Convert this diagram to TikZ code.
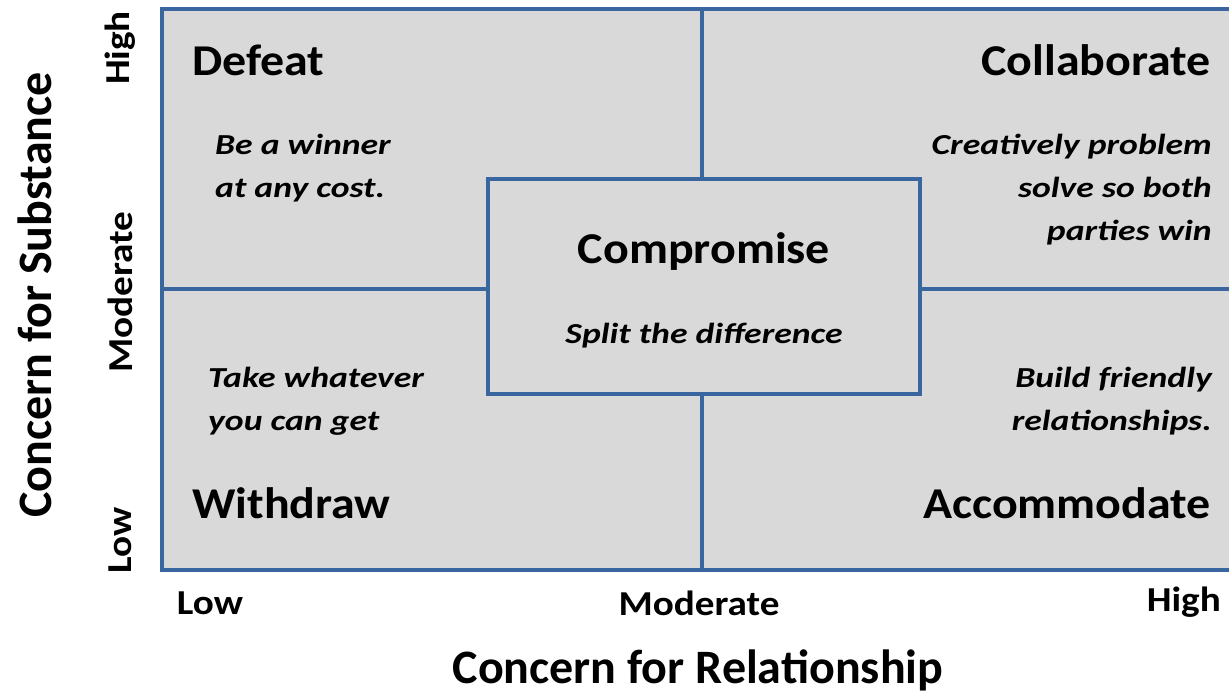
\documentclass[tikz,border=0pt]{standalone}
\usepackage{fontspec}
\setmainfont{Carlito}
\newfontfamily\widefont[FakeStretch=1.09]{Carlito}
\newfontfamily\notefont[FakeStretch=1.23]{Carlito}
\newfontfamily\tickfont[FakeStretch=1.12]{Carlito}
\usepackage{xcolor}
\definecolor{frame}{HTML}{3A66A0}
\definecolor{pane}{HTML}{D9D9D9}
\usepackage{tikz}
\usetikzlibrary{positioning}
\tikzset{
  grid/.style={draw=frame,line width=4pt},
  midbox/.style={grid,fill=pane,minimum width=432pt,minimum height=215pt,inner sep=0pt},
  ttl/.style={font=\widefont\bfseries\fontsize{44}{48}\selectfont,inner sep=0pt},
  note/.style={font=\notefont\bfseries\itshape\fontsize{29}{43}\selectfont,inner sep=0pt},
  tick/.style={font=\tickfont\bfseries\fontsize{35}{40}\selectfont,inner sep=0pt},
  axis/.style={font=\bfseries\fontsize{48}{52}\selectfont,inner sep=0pt},
}

\begin{document}
\begin{tikzpicture}[x=1pt,y=1pt]
  \clip (0,0) rectangle (1229,-695);

  % quadrant field and dividers
  \filldraw[grid,fill=pane] (162,-9) rectangle (1245,-570);
  \draw[grid] (702,-9) -- (702,-570);
  \draw[grid] (162,-289) -- (1245,-289);
  \node[midbox] (mid) at (704,-286.5) {};

  % corner titles
  \node[ttl,anchor=base west] (defeat) at (192,-76) {Defeat};
  \node[ttl,anchor=base east] (collab) at (1211,-76) {Collaborate};
  \node[ttl,anchor=base west] (withdraw) at (192,-518) {Withdraw};
  \node[ttl,anchor=base east] (accom) at (1211,-518) {Accommodate};
  \node[ttl,anchor=base] (comp) at (mid.center |- 0,-264) {Compromise};

  % descriptions
  \node[note,align=left,anchor=north west] (winner) at (215,-134) {Be a winner\\at any cost.};
  \node[note,align=right,anchor=north east] (solve) at (1212,-134) {Creatively problem\\solve so both\\parties win};
  \node[note,align=left,anchor=north west] (take) at (208,-367) {Take whatever\\you can get};
  \node[note,align=right,anchor=north east] (build) at (1212,-367) {Build friendly\\relationships.};
  \node[note,anchor=base] (split) at (mid.center |- 0,-343) {Split the difference};

  % axes
  \node[tick,rotate=90] (shigh) at (120,-48) {High};
  \node[tick,rotate=90] (smod) at (120,-292) {Moderate};
  \node[tick,rotate=90] (slow) at (120,-540) {Low};
  \node[tick] (rlow) at (210,-603) {Low};
  \node[tick] (rmod) at (699,-603) {Moderate};
  \node[tick,anchor=east] (rhigh) at (1221,-602) {High};
  \node[axis] (rel) at (698,-670) {Concern for Relationship};
  \node[axis,rotate=90] (sub) at (35,-295) {Concern for Substance};
\end{tikzpicture}
\end{document}
